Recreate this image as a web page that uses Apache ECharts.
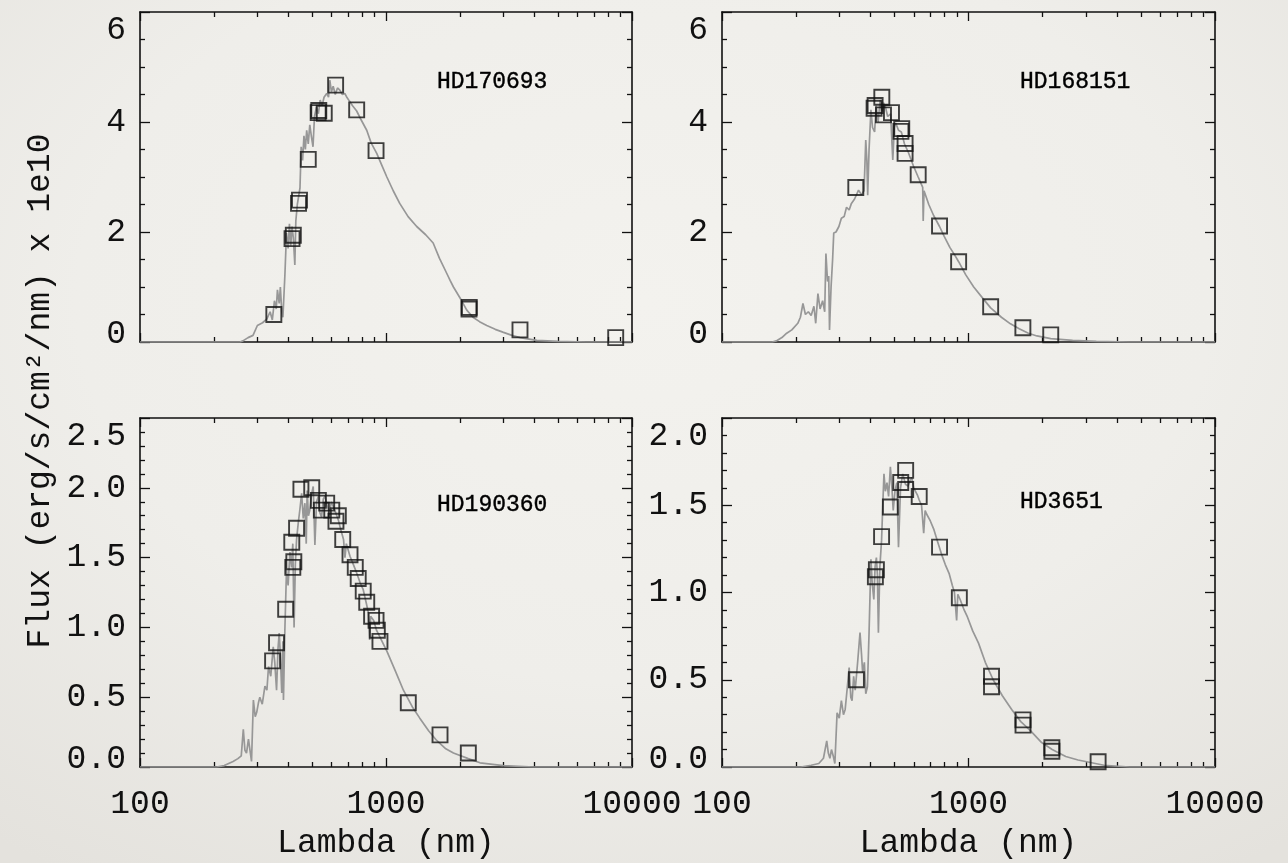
<!DOCTYPE html>
<html>
<head>
<meta charset="utf-8">
<title>Spectral energy distributions</title>
<script src="https://cdn.jsdelivr.net/npm/echarts@6/dist/echarts.min.js"></script>
<style>
  html, body { margin: 0; padding: 0; }
  body {
    width: 1288px; height: 863px; overflow: hidden;
    background: radial-gradient(ellipse 80% 80% at 50% 35%, #f3f2ee 0%, #efeeea 55%, #e4e2dd 100%);
  }
  #chart { width: 1288px; height: 863px; }
</style>
</head>
<body>
<div id="chart"></div>
<script>
// ---- Model spectra (wavelength in nm, flux in 1e-10 erg/s/cm^2/nm) ----
const specWl_HD170693 = [100,200,255,262,275,288,300,315,328,338,345,352,358,362,368,372,377,381,388,394,400,405,410,415,420,426,430,436,442,447,452,458,464,470,476,483,490,497,505,512,522,531,540,550,560,574,584,591,600,610,622,635,649,665,680,691,710,730,760,790,835,870,917,960,1008,1070,1137,1230,1333,1450,1555,1650,1765,1822,1880,2000,2130,2257,2400,2568,2780,2984,3250,3505,4104,5000,6500,10000];
const specFlux_HD170693 = [0,0,0,0.02,0.08,0.12,0.30,0.35,0.42,0.55,0.40,0.75,0.60,0.95,0.70,1.00,0.55,0.45,1.20,1.98,1.70,2.15,1.75,2.10,1.90,1.40,2.20,2.50,2.50,2.80,3.55,3.30,3.75,3.50,3.85,3.60,3.95,3.75,3.55,4.10,4.28,4.15,4.40,4.30,4.45,4.52,4.45,4.76,4.55,4.65,4.50,4.62,4.58,4.50,4.52,4.46,4.38,4.30,4.20,4.05,3.85,3.62,3.43,3.22,3.00,2.75,2.52,2.28,2.10,1.95,1.80,1.52,1.25,1.12,1.00,0.80,0.58,0.45,0.37,0.30,0.23,0.18,0.12,0.08,0.03,0.01,0,0];

const specWl_HD168151 = [100,160,166,175,183,192,203,208,213,218,224,230,236,240,245,250,256,261,264,268,271,273,277,281,284,290,298,305,313,320,328,335,345,358,368,377,383,387,390,395,402,408,416,422,430,438,446,452,460,470,483,493,500,507,520,534,550,570,598,625,652,655,660,690,722,763,797,840,882,912,975,1050,1150,1230,1360,1480,1606,1750,1895,2156,2644,3300,4500,10000];
const specFlux_HD168151 = [0,0,0.02,0.08,0.16,0.22,0.34,0.45,0.70,0.50,0.55,0.48,0.65,0.34,0.88,0.60,0.75,0.55,1.61,1.10,1.20,0.22,1.00,1.50,1.98,2.00,2.10,2.25,2.28,2.45,2.40,2.52,2.60,2.76,2.68,2.75,3.67,3.30,2.67,3.50,4.22,3.90,3.82,4.30,4.00,4.40,4.20,4.35,4.28,4.10,4.15,3.31,3.90,3.98,3.85,3.82,3.60,3.45,3.20,3.00,2.81,2.20,2.75,2.50,2.30,2.10,1.92,1.72,1.57,1.46,1.22,1.00,0.78,0.62,0.45,0.33,0.24,0.16,0.11,0.06,0.03,0.01,0,0];

const specWl_HD190360 = [100,205,220,239,250,258,263,267,271,276,280,284,289,294,298,303,307,314,322,328,333,340,348,353,359,364,368,372,377,381,383,388,394,400,407,413,418,423,428,433,440,447,454,461,468,474,478,484,490,498,506,514,522,531,539,547,556,565,578,591,600,610,625,640,655,672,681,690,714,737,760,785,808,830,849,858,866,891,915,945,1008,1090,1177,1280,1372,1490,1607,1750,1880,2160,2410,3000,4000,10000];
const specFlux_HD190360 = [0,0,0.01,0.04,0.06,0.08,0.27,0.12,0.10,0.20,0.19,0.04,0.48,0.36,0.39,0.46,0.50,0.45,0.58,0.55,0.72,0.65,0.86,0.75,0.55,0.85,0.96,0.80,0.53,0.90,0.48,0.98,1.41,1.30,1.54,1.43,1.60,1.00,1.45,1.63,1.75,1.85,1.96,1.78,1.89,1.60,1.98,1.80,1.84,1.95,2.01,1.59,1.90,1.94,1.82,1.79,1.92,1.94,1.86,1.84,1.90,1.91,1.82,1.77,1.70,1.63,1.50,1.60,1.51,1.45,1.39,1.32,1.27,1.18,1.10,0.91,1.08,1.05,0.98,0.93,0.83,0.69,0.55,0.43,0.35,0.26,0.19,0.13,0.10,0.06,0.03,0.01,0,0];

const specWl_HD3651 = [100,209,230,247,258,266,270,274,278,283,287,293,299,305,311,316,322,328,333,337,342,347,355,363,368,372,378,383,389,395,402,407,413,418,423,427,431,437,444,449,454,460,467,474,482,489,495,503,512,520,530,541,555,568,580,589,599,609,620,631,645,658,667,676,700,724,750,777,805,834,860,877,895,905,925,960,990,1040,1098,1170,1259,1370,1497,1630,1779,1980,2185,2480,2783,3546,4500,10000];
const specFlux_HD3651 = [0,0,0.01,0.02,0.05,0.15,0.08,0.05,0.10,0.06,0.02,0.31,0.28,0.38,0.30,0.33,0.45,0.57,0.40,0.38,0.52,0.44,0.60,0.77,0.65,0.54,0.60,0.42,0.46,0.77,1.19,1.05,0.96,1.15,1.20,1.10,0.77,1.15,1.30,1.50,1.68,1.58,1.63,1.55,1.72,1.60,1.47,1.58,1.63,1.26,1.60,1.68,1.62,1.61,1.64,1.66,1.60,1.61,1.56,1.53,1.50,1.34,1.47,1.45,1.41,1.36,1.29,1.22,1.16,1.11,1.04,1.00,0.84,0.99,0.96,0.90,0.86,0.78,0.71,0.60,0.50,0.41,0.33,0.26,0.21,0.14,0.10,0.06,0.04,0.01,0,0];

// ---- Photometric points ----
const photWl_HD170693 = [350,415,420,441,445,483,530,533,561,624,760,911,2175,2180,3505,8585];
const photFlux_HD170693 = [0.50,1.88,1.94,2.52,2.58,3.32,4.17,4.21,4.16,4.67,4.22,3.48,0.60,0.63,0.22,0.08];

const photWl_HD168151 = [349,414,418,445,452,487,532,536,553,553,625,763,912,1230,1662,2156];
const photFlux_HD168151 = [2.81,4.25,4.30,4.45,4.13,4.17,3.83,3.88,3.61,3.43,3.04,2.11,1.46,0.64,0.26,0.13];

const photWl_HD190360 = [346,359,391,418,422,414,433,451,499,531,546,574,602,626,640,667,714,750,771,808,835,874,911,922,945,1232,1658,2161];
const photFlux_HD190360 = [0.76,0.89,1.13,1.43,1.47,1.61,1.71,1.99,2.00,1.91,1.84,1.89,1.84,1.76,1.80,1.63,1.52,1.43,1.35,1.26,1.18,1.08,1.05,0.98,0.90,0.46,0.23,0.10];

const photWl_HD3651 = [351,419,423,444,482,531,556,556,631,763,918,1240,1240,1664,1664,2179,2179,3356];
const photFlux_HD3651 = [0.50,1.09,1.13,1.32,1.49,1.63,1.70,1.59,1.55,1.26,0.97,0.52,0.46,0.27,0.24,0.09,0.11,0.03];

// ---- Tick values ----
const xMajorTicks = [100,1000,10000];
const xMinorTicks = [200,300,400,500,600,700,800,900,2000,3000,4000,5000,6000,7000,8000,9000];
const yMajorTop = [0,2,4,6];
const yMinorTop = [0.5,1,1.5,2.5,3,3.5,4.5,5,5.5];
const yMajorBL = [0,0.5,1,1.5,2,2.5];
const yMinorBL = [0.1,0.2,0.3,0.4,0.6,0.7,0.8,0.9,1.1,1.2,1.3,1.4,1.6,1.7,1.8,1.9,2.1,2.2,2.3,2.4];
const yMajorBR = [0,0.5,1,1.5,2];
const yMinorBR = [0.1,0.2,0.3,0.4,0.6,0.7,0.8,0.9,1.1,1.2,1.3,1.4,1.6,1.7,1.8,1.9];

const starNames = ['HD170693','HD168151','HD190360','HD3651'];
const xTitle = 'Lambda (nm)';
const yTitle = 'Flux (erg/s/cm\u00B2/nm) x 1e10';

// ---- Layout and styling ----
const FONT = 'Liberation Mono';
const INK = '#111';
const panels = [
  { spec: [specWl_HD170693, specFlux_HD170693], phot: [photWl_HD170693, photFlux_HD170693],
    grid: { left: 140, top: 12, width: 492, height: 330 }, yMax: 6, yMajor: yMajorTop, yMinor: yMinorTop,
    digits: 0, showX: false, label: { left: 437, top: 70 } },
  { spec: [specWl_HD168151, specFlux_HD168151], phot: [photWl_HD168151, photFlux_HD168151],
    grid: { left: 722, top: 12, width: 493, height: 330 }, yMax: 6, yMajor: yMajorTop, yMinor: yMinorTop,
    digits: 0, showX: false, label: { left: 1020, top: 70 } },
  { spec: [specWl_HD190360, specFlux_HD190360], phot: [photWl_HD190360, photFlux_HD190360],
    grid: { left: 140, top: 418, width: 492, height: 349 }, yMax: 2.5, yMajor: yMajorBL, yMinor: yMinorBL,
    digits: 1, showX: true, label: { left: 437, top: 493 } },
  { spec: [specWl_HD3651, specFlux_HD3651], phot: [photWl_HD3651, photFlux_HD3651],
    grid: { left: 722, top: 418, width: 493, height: 349 }, yMax: 2.0, yMajor: yMajorBR, yMinor: yMinorBR,
    digits: 1, showX: true, label: { left: 1020, top: 490 } }
];

const frameLine = { show: true, onZero: false, lineStyle: { color: INK, width: 1.6 } };
const tickStyle = { color: INK, width: 1.3 };
const noLine = { show: false, onZero: false };
const labelFont = { fontFamily: FONT, fontSize: 33, color: INK };

// End labels of the flux axes sit just inside the frame.
function yLabelFormatter(p) {
  return v => {
    const s = v.toFixed(p.digits);
    if (Math.abs(v - p.yMax) < 1e-9) return '{hi|' + s + '}';
    if (Math.abs(v) < 1e-9) return '{lo|' + s + '}';
    return s;
  };
}

function makeXAxes(gi, p) {
  const base = { type: 'log', logBase: 10, gridIndex: gi, min: 100, max: 10000,
                 splitLine: { show: false }, minorTick: { show: false }, minorSplitLine: { show: false } };
  return [
    Object.assign({}, base, {
      position: 'bottom', axisLine: frameLine,
      axisTick: { show: true, inside: true, length: 9, customValues: xMajorTicks, lineStyle: tickStyle },
      axisLabel: Object.assign({ show: p.showX, customValues: xMajorTicks, margin: 21,
                   formatter: v => String(Math.round(v)) }, labelFont),
      name: p.showX ? xTitle : '', nameLocation: 'middle', nameGap: 60,
      nameTextStyle: labelFont
    }),
    Object.assign({}, base, {
      position: 'bottom', axisLine: noLine,
      axisTick: { show: true, inside: true, length: 5, customValues: xMinorTicks, lineStyle: tickStyle },
      axisLabel: { show: false }
    }),
    Object.assign({}, base, {
      position: 'top', axisLine: frameLine,
      axisTick: { show: true, inside: true, length: 9, customValues: xMajorTicks, lineStyle: tickStyle },
      axisLabel: { show: false }
    }),
    Object.assign({}, base, {
      position: 'top', axisLine: noLine,
      axisTick: { show: true, inside: true, length: 5, customValues: xMinorTicks, lineStyle: tickStyle },
      axisLabel: { show: false }
    })
  ];
}

function makeYAxes(gi, p) {
  const base = { type: 'value', gridIndex: gi, min: 0, max: p.yMax, splitLine: { show: false } };
  return [
    Object.assign({}, base, {
      position: 'left', axisLine: frameLine,
      axisTick: { show: true, inside: true, length: 10, customValues: p.yMajor, lineStyle: tickStyle },
      axisLabel: Object.assign({ show: true, customValues: p.yMajor, formatter: yLabelFormatter(p), margin: 14,
                   lineHeight: 26, verticalAlignMinLabel: 'bottom', verticalAlignMaxLabel: 'top',
                   rich: {
                     hi: Object.assign({ lineHeight: 36 }, labelFont),
                     lo: Object.assign({ lineHeight: 16 }, labelFont)
                   } }, labelFont)
    }),
    Object.assign({}, base, {
      position: 'left', axisLine: noLine,
      axisTick: { show: true, inside: true, length: 5, customValues: p.yMinor, lineStyle: tickStyle },
      axisLabel: { show: false }
    }),
    Object.assign({}, base, {
      position: 'right', axisLine: frameLine,
      axisTick: { show: true, inside: true, length: 10, customValues: p.yMajor, lineStyle: tickStyle },
      axisLabel: { show: false }
    }),
    Object.assign({}, base, {
      position: 'right', axisLine: noLine,
      axisTick: { show: true, inside: true, length: 5, customValues: p.yMinor, lineStyle: tickStyle },
      axisLabel: { show: false }
    })
  ];
}

const pairs = (xs, ys) => xs.map((x, i) => [x, ys[i]]);

const option = {
  animation: false,
  backgroundColor: 'transparent',
  grid: panels.map(p => Object.assign({ containLabel: false }, p.grid)),
  xAxis: [].concat(...panels.map((p, i) => makeXAxes(i, p))),
  yAxis: [].concat(...panels.map((p, i) => makeYAxes(i, p))),
  title: panels.map((p, i) => ({
    text: starNames[i], left: p.label.left, top: p.label.top, padding: 0,
    textStyle: { color: '#000', fontFamily: FONT, fontSize: 23, fontWeight: 'normal',
                 textBorderColor: '#000', textBorderWidth: 0.4 }
  })),
  series: [].concat(...panels.map((p, i) => [
    { type: 'line', xAxisIndex: i * 4, yAxisIndex: i * 4,
      data: pairs(p.spec[0], p.spec[1]), showSymbol: false, symbol: 'none',
      lineStyle: { color: '#979797', width: 1.7 }, z: 2 },
    { type: 'scatter', xAxisIndex: i * 4, yAxisIndex: i * 4,
      data: pairs(p.phot[0], p.phot[1]), symbol: 'rect', symbolSize: 15,
      itemStyle: { color: 'rgba(0,0,0,0)', borderColor: INK, borderWidth: 1.9 }, z: 3 }
  ])),
  graphic: [{
    type: 'text', x: 40, y: 391, rotation: Math.PI / 2,
    style: { text: yTitle, fill: INK, font: '33px "' + FONT + '"', align: 'center', verticalAlign: 'middle' }
  }]
};

const chart = echarts.init(document.getElementById('chart'), null, { renderer: 'canvas' });
chart.setOption(option);
</script>
</body>
</html>
